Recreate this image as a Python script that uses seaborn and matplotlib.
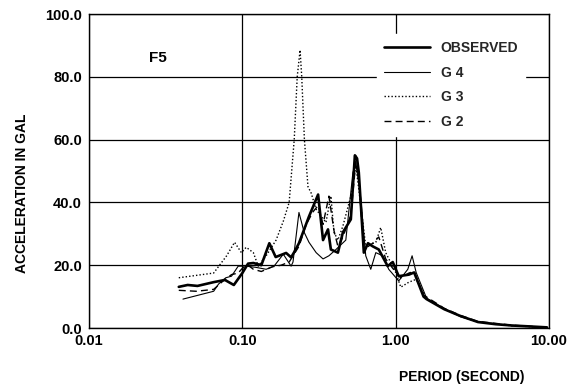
import matplotlib
matplotlib.use("Agg")
import matplotlib.pyplot as plt
import seaborn as sns
import pandas as pd
from matplotlib.ticker import FixedLocator, FixedFormatter, NullLocator

sns.set_theme(style="white")
plt.rcParams['font.family'] = ['Liberation Sans', 'DejaVu Sans']
plt.rcParams['font.weight'] = 'bold'

# ---- data (period in seconds, acceleration in gal) ----
obs_t = [0.0385, 0.044, 0.051, 0.065, 0.077, 0.088, 0.100, 0.109, 0.118, 0.133, 0.150, 0.165,
         0.193, 0.208, 0.220, 0.234, 0.272, 0.312, 0.336, 0.362, 0.378, 0.420, 0.453, 0.510,
         0.542, 0.560, 0.575, 0.620, 0.660, 0.709, 0.776, 0.887, 0.957, 1.047, 1.22, 1.32,
         1.52, 1.59, 2.07, 2.65, 3.44, 4.5, 5.73, 7.5, 9.7]
obs_a = [13.1, 13.7, 13.4, 14.6, 15.3, 13.7, 17.5, 20.5, 20.7, 20.0, 27.0, 22.6,
         23.9, 22.5, 24.5, 27.0, 35.5, 42.5, 28.0, 31.4, 25.0, 24.0, 30.5, 34.6,
         55.0, 54.0, 49.5, 24.0, 27.0, 26.0, 25.0, 19.7, 21.0, 16.5, 17.0, 17.7,
         10.0, 9.2, 6.0, 3.8, 1.9, 1.2, 0.8, 0.5, 0.2]

g4_t = [0.041, 0.065, 0.070, 0.078, 0.085, 0.094, 0.106, 0.123, 0.143, 0.161, 0.185, 0.208,
        0.214, 0.234, 0.253, 0.272, 0.303, 0.336, 0.367, 0.408, 0.473, 0.526, 0.550, 0.593,
        0.638, 0.688, 0.742, 0.824, 0.901, 1.047, 1.20, 1.28, 1.36, 1.59, 2.07, 2.65, 3.44,
        5.73, 9.7]
g4_a = [9.2, 11.7, 14.0, 16.0, 16.5, 19.7, 19.7, 19.3, 18.7, 19.7, 23.5, 19.7,
        21.0, 36.8, 30.5, 27.3, 24.0, 22.0, 23.0, 25.0, 28.0, 49.5, 52.7, 41.0,
        23.0, 18.7, 24.0, 23.0, 18.7, 15.0, 18.7, 23.0, 17.7, 9.5, 6.2, 3.6, 2.0,
        0.7, 0.2]

g3_t = [0.0385, 0.065, 0.079, 0.089, 0.0986, 0.106, 0.118, 0.127, 0.143, 0.166, 0.185,
        0.202, 0.218, 0.228, 0.238, 0.244, 0.254, 0.268, 0.281, 0.303, 0.351, 0.378, 0.396,
        0.420, 0.453, 0.510, 0.550, 0.593, 0.638, 0.742, 0.799, 0.861, 1.00, 1.08, 1.22,
        1.36, 1.59, 2.07, 2.65, 3.44, 5.73, 9.7]
g3_a = [16.0, 17.5, 23.0, 27.3, 24.0, 25.7, 24.0, 19.7, 23.0, 28.0, 34.0,
        40.0, 60.0, 80.0, 88.5, 80.0, 60.0, 45.0, 43.0, 37.8, 33.6, 42.0, 30.5,
        28.0, 32.5, 42.0, 51.6, 38.9, 26.0, 27.3, 32.0, 24.0, 17.7, 13.0, 14.6,
        15.5, 9.5, 6.0, 3.7, 1.9, 0.7, 0.2]

g2_t = [0.0385, 0.050, 0.065, 0.075, 0.085, 0.094, 0.100, 0.109, 0.118, 0.133, 0.157, 0.179,
        0.202, 0.234, 0.261, 0.289, 0.312, 0.336, 0.367, 0.396, 0.420, 0.453, 0.510, 0.550,
        0.575, 0.620, 0.709, 0.776, 0.861, 0.957, 1.08, 1.22, 1.32, 1.52, 2.07, 2.65, 3.44,
        5.73, 9.7]
g2_a = [12.0, 11.7, 12.3, 15.0, 17.0, 17.5, 19.0, 20.0, 18.7, 18.0, 19.5, 20.0,
        21.0, 26.0, 33.0, 37.0, 39.0, 33.0, 42.0, 31.0, 26.0, 29.0, 36.0, 53.0,
        47.0, 25.0, 27.0, 29.0, 22.0, 19.0, 16.0, 17.5, 18.0, 10.5, 6.3, 4.0, 2.1,
        0.9, 0.2]

x_ticks = [0.01, 0.1, 1.0, 10.0]
x_labels = ["0.01", "0.10", "1.00", "10.00"]
y_ticks = [0, 20, 40, 60, 80, 100]
y_labels = ["0.0", "20.0", "40.0", "60.0", "80.0", "100.0"]

fig = plt.figure(figsize=(5.74, 3.89), dpi=100)
ax = fig.add_axes([89/574, 1-328/389, 460/574, 314/389])

sns.lineplot(x=g3_t, y=g3_a, ax=ax, color='black', lw=1.0, linestyle=(0, (1, 1.5)),
             label='G 3', sort=False)
sns.lineplot(x=g2_t, y=g2_a, ax=ax, color='black', lw=1.0, linestyle=(0, (5, 3)),
             label='G 2', sort=False)
sns.lineplot(x=g4_t, y=g4_a, ax=ax, color='black', lw=0.8, label='G 4', sort=False)
sns.lineplot(x=obs_t, y=obs_a, ax=ax, color='black', lw=1.9, label='OBSERVED', sort=False)

ax.set_xscale('log')
ax.set_xlim(0.01, 10)
ax.set_ylim(0, 100)
ax.xaxis.set_major_locator(FixedLocator(x_ticks))
ax.xaxis.set_major_formatter(FixedFormatter(x_labels))
ax.xaxis.set_minor_locator(NullLocator())
ax.yaxis.set_major_locator(FixedLocator(y_ticks))
ax.yaxis.set_major_formatter(FixedFormatter(y_labels))

ax.grid(True, color='black', lw=0.9)
ax.set_axisbelow(True)
for s in ax.spines.values():
    s.set_color('black')
    s.set_linewidth(1.0)
ax.tick_params(axis='both', direction='out', length=4, width=1, color='black',
               labelsize=10.5, pad=1, labelcolor='black')
ax.tick_params(axis='x', length=0, pad=4)
for lab in ax.get_xticklabels() + ax.get_yticklabels():
    lab.set_fontweight('bold')

ax.set_ylabel("ACCELERATION IN GAL", fontsize=10, fontweight='bold', color='black')
ax.yaxis.set_label_coords(-0.13, 0.43)
ax.set_xlabel("PERIOD (SECOND)", fontsize=10, fontweight='bold', color='black')
ax.xaxis.set_label_coords(0.81, -0.135)

ax.text(0.028, 86, "F5", fontsize=11, fontweight='bold', color='black', ha='center', va='center')

handles, labels = ax.get_legend_handles_labels()
order = ['OBSERVED', 'G 4', 'G 3', 'G 2']
hmap = dict(zip(labels, handles))
leg = ax.legend([hmap[k] for k in order], order, loc='upper left',
                bbox_to_anchor=(0.626, 0.935), frameon=True, fancybox=False,
                facecolor='white', edgecolor='white', framealpha=1,
                handlelength=3.3, handletextpad=0.8, labelspacing=0.75,
                borderpad=0.5, borderaxespad=0,
                prop={'size': 10, 'weight': 'bold'})

fig.savefig("out.png", dpi=100, facecolor='white')
